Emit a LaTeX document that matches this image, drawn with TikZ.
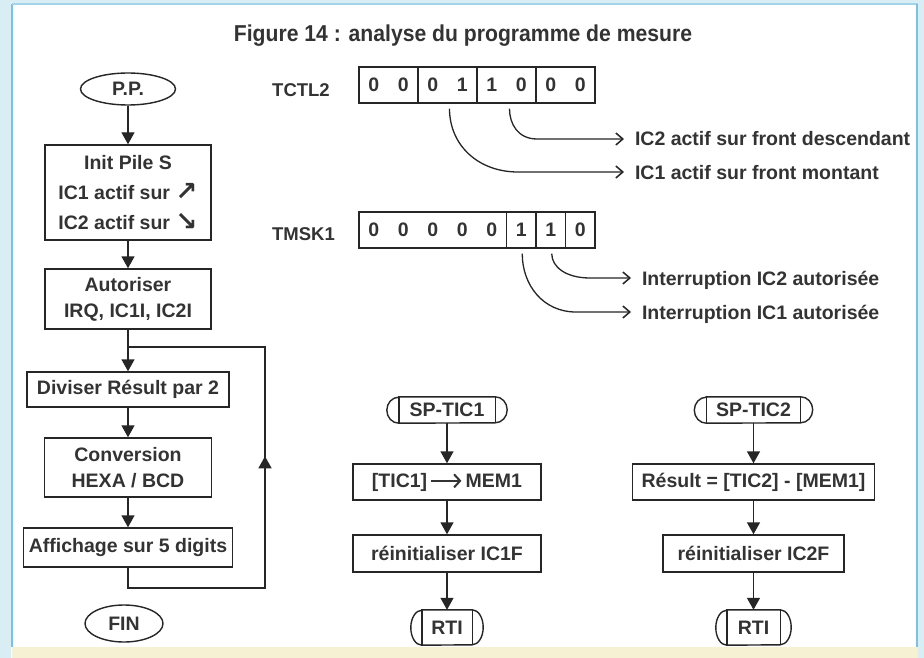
\documentclass[tikz,border=0pt]{standalone}
\usepackage{fontspec}
\setmainfont{Liberation Sans}
\newfontfamily\symfont{DejaVu Sans}
\usetikzlibrary{arrows.meta,calc,shapes.geometric,decorations.markings}
\definecolor{txt}{HTML}{333333}
\definecolor{linec}{HTML}{262626}
\definecolor{bandblue}{HTML}{D9EDF5}
\definecolor{borderblue}{HTML}{7DC1E2}
\definecolor{bottomband}{HTML}{F6F1D3}
\newcommand{\subrt}[3]{%
  \draw[ln] ([xshift=#2]#1.north west) -- ([xshift=-#2]#1.north east)
    arc[start angle=90,end angle=-90,x radius=#2,y radius=#3]
    -- ([xshift=#2]#1.south west)
    arc[start angle=270,end angle=90,x radius=#2,y radius=#3] -- cycle;
  \draw[ln] ([xshift=#2]#1.north west) -- ([xshift=#2]#1.south west);
  \draw[ln] ([xshift=-#2]#1.north east) -- ([xshift=-#2]#1.south east);
}
\newcommand{\bigarrow}{\tikz[baseline=-0.6ex]\draw[line width=2pt,color=txt,-{Straight Barb[length=6pt,width=13pt,line width=2pt]}] (0pt,0pt) -- (30pt,0pt);}
\newcommand{\diagarrow}[1]{\raisebox{-1pt}{\scalebox{1.35}{\symfont\bfseries #1}}}
\begin{document}
\begin{tikzpicture}[x=1pt,y=-1pt,
  bodyfont/.style={font=\bfseries\fontsize{19.5}{26}\selectfont, text=txt},
  ln/.style={draw=linec, line width=1.4pt},
  fbox/.style={bodyfont, ln, rectangle, inner sep=0pt, align=center},
  term/.style={bodyfont, ln, ellipse, inner sep=0pt},
  subnode/.style={bodyfont, rectangle, inner sep=0pt},
  flow/.style={ln, -{Triangle[length=12pt,width=13pt]}},
  barb/.style={draw=linec, line width=1.3pt, -{Straight Barb[length=7pt,width=12pt,line width=1.5pt]}},
  cell/.style={bodyfont, ln, rectangle, inner sep=0pt, minimum height=36pt},
  reglbl/.style={font=\bfseries\fontsize{18.5}{22}\selectfont, text=txt, inner sep=0pt},
  lbl/.style={bodyfont, inner sep=0pt, outer xsep=11pt, anchor=west, text height=14pt, text depth=0pt}
]
\useasboundingbox (0,0) rectangle (924,658);
% background and frame
\fill[white] (0,0) rectangle (924,658);
\fill[bandblue] (0,0) rectangle (11,658);
\fill[bandblue] (0,0) rectangle (924,3);
\fill[bandblue] (918,0) rectangle (924,658);
\fill[bottomband] (12,647) rectangle (918,658);
\draw[borderblue, line width=1.6pt] (12,4) -- (12,647);
\draw[borderblue!70, line width=1.4pt] (12,4) -- (918,4);
\draw[borderblue, line width=1.6pt] (917,4) -- (917,647);

% title
\node[font=\bfseries\fontsize{23}{26}\selectfont, text=txt, inner sep=0pt] (title) at (463,36) {\scalebox{0.92}[1]{Figure 14 : analyse du programme de mesure}};

% main program
\node[term, minimum width=95pt, minimum height=32pt] (pp) at (128,89) {P.P.};
\node[fbox, minimum width=166pt, minimum height=95pt] (init) at (128,192.5)
  {Init Pile S\\[4pt]IC1 actif sur \diagarrow{↗}\\[4pt]IC2 actif sur \diagarrow{↘}};
\node[fbox, minimum width=166pt, minimum height=60pt] (autor) at (128,299) {Autoriser\\IRQ, IC1I, IC2I};
\node[fbox, minimum width=202pt, minimum height=35pt] (div) at (128,389.5) {Diviser Résult par 2};
\node[fbox, minimum width=167pt, minimum height=59pt] (conv) at (128,467.5) {Conversion\\HEXA / BCD};
\node[fbox, minimum width=209pt, minimum height=39pt] (aff) at (128,547.5) {Affichage sur 5 digits};
\node[term, minimum width=78pt, minimum height=37pt] (fin) at (124,623.5) {FIN};

\draw[flow] (pp.south) -- (init.north);
\draw[flow] (init.south) -- (autor.north);
\draw[flow] (autor.south) -- (div.north);
\draw[flow] (div.south) -- (conv.north);
\draw[flow] (conv.south) -- (aff.north);
\coordinate (j) at (128,347);
\coordinate (lb) at (265,588);
\draw[ln, postaction={decorate}, decoration={markings, mark=at position 289pt with {\arrow{Triangle[length=12pt,width=13pt]}}}]
  (aff.south) |- (lb) |- (j);

% TCTL2 register
\node[reglbl] (tctl) at (301,90) {TCTL2};
\node[cell, minimum width=59pt] (t1) at (388.5,85) {\makebox[29.5pt]{0}\makebox[29.5pt]{0}};
\node[cell, minimum width=59pt] (t2) at (447.5,85) {\makebox[29.5pt]{0}\makebox[29.5pt]{1}};
\node[cell, minimum width=59pt] (t3) at (506.5,85) {\makebox[29.5pt]{1}\makebox[29.5pt]{0}};
\node[cell, minimum width=59pt] (t4) at (565.5,85) {\makebox[29.5pt]{0}\makebox[29.5pt]{0}};
\node[lbl] (la) at (624,139) {IC2 actif sur front descendant};
\node[lbl] (lb1) at (624,172) {IC1 actif sur front montant};
\draw[barb] ($(t3.south)+(3,5)$) .. controls (509.5,124) and (518,139) .. (537,139) -- (la.west);
\draw[barb] ($(t2.south)+(2,5)$) .. controls (449.5,145) and (478,172) .. (518,172) -- (lb1.west);

% TMSK1 register
\node[reglbl] (tmsk) at (303.5,234.5) {TMSK1};
\node[cell, minimum width=147.5pt] (k1) at (432.75,230) {\makebox[29.5pt]{0}\makebox[29.5pt]{0}\makebox[29.5pt]{0}\makebox[29.5pt]{0}\makebox[29.5pt]{0}};
\node[cell, minimum width=29.5pt] (k2) at (521.25,230) {1};
\node[cell, minimum width=29.5pt] (k3) at (550.75,230) {1};
\node[cell, minimum width=29.5pt] (k4) at (580.25,230) {0};
\node[lbl] (lc) at (631,278) {Interruption IC2 autorisée};
\node[lbl] (ld) at (631,312) {Interruption IC1 autorisée};
\draw[barb] ($(k3.south)+(1,5)$) .. controls (551.75,267) and (566,278) .. (590,278) -- (lc.west);
\draw[barb] ($(k2.south)+(1,5)$) .. controls (522.25,285) and (543,312) .. (576,312) -- (ld.west);

% SP-TIC1
\node[subnode, minimum width=120pt, minimum height=26pt] (s1) at (447,410) {SP-TIC1};
\subrt{s1}{12pt}{13pt}
\node[fbox, minimum width=188pt, minimum height=36pt] (m1) at (447,482) {[TIC1]\,\bigarrow\,MEM1};
\node[fbox, minimum width=188pt, minimum height=37pt] (m2) at (447,553.5) {réinitialiser IC1F};
\node[subnode, minimum width=72pt, minimum height=35pt] (r1) at (447,627.5) {RTI};
\subrt{r1}{11pt}{17.5pt}
\draw[flow] (s1.south) -- (m1.north);
\draw[flow] (m1.south) -- (m2.north);
\draw[flow] (m2.south) -- (r1.north);

% SP-TIC2
\node[subnode, minimum width=118pt, minimum height=26pt] (s2) at (753.5,410) {SP-TIC2};
\subrt{s2}{12pt}{13pt}
\node[fbox, minimum width=242pt, minimum height=36pt] (n1) at (753.5,482) {Résult = [TIC2] - [MEM1]};
\node[fbox, minimum width=181pt, minimum height=37pt] (n2) at (753.5,553.5) {réinitialiser IC2F};
\node[subnode, minimum width=75pt, minimum height=35pt] (r2) at (753.5,627.5) {RTI};
\subrt{r2}{11pt}{17.5pt}
\draw[flow] (s2.south) -- (n1.north);
\draw[flow] (n1.south) -- (n2.north);
\draw[flow] (n2.south) -- (r2.north);
\end{tikzpicture}
\end{document}
